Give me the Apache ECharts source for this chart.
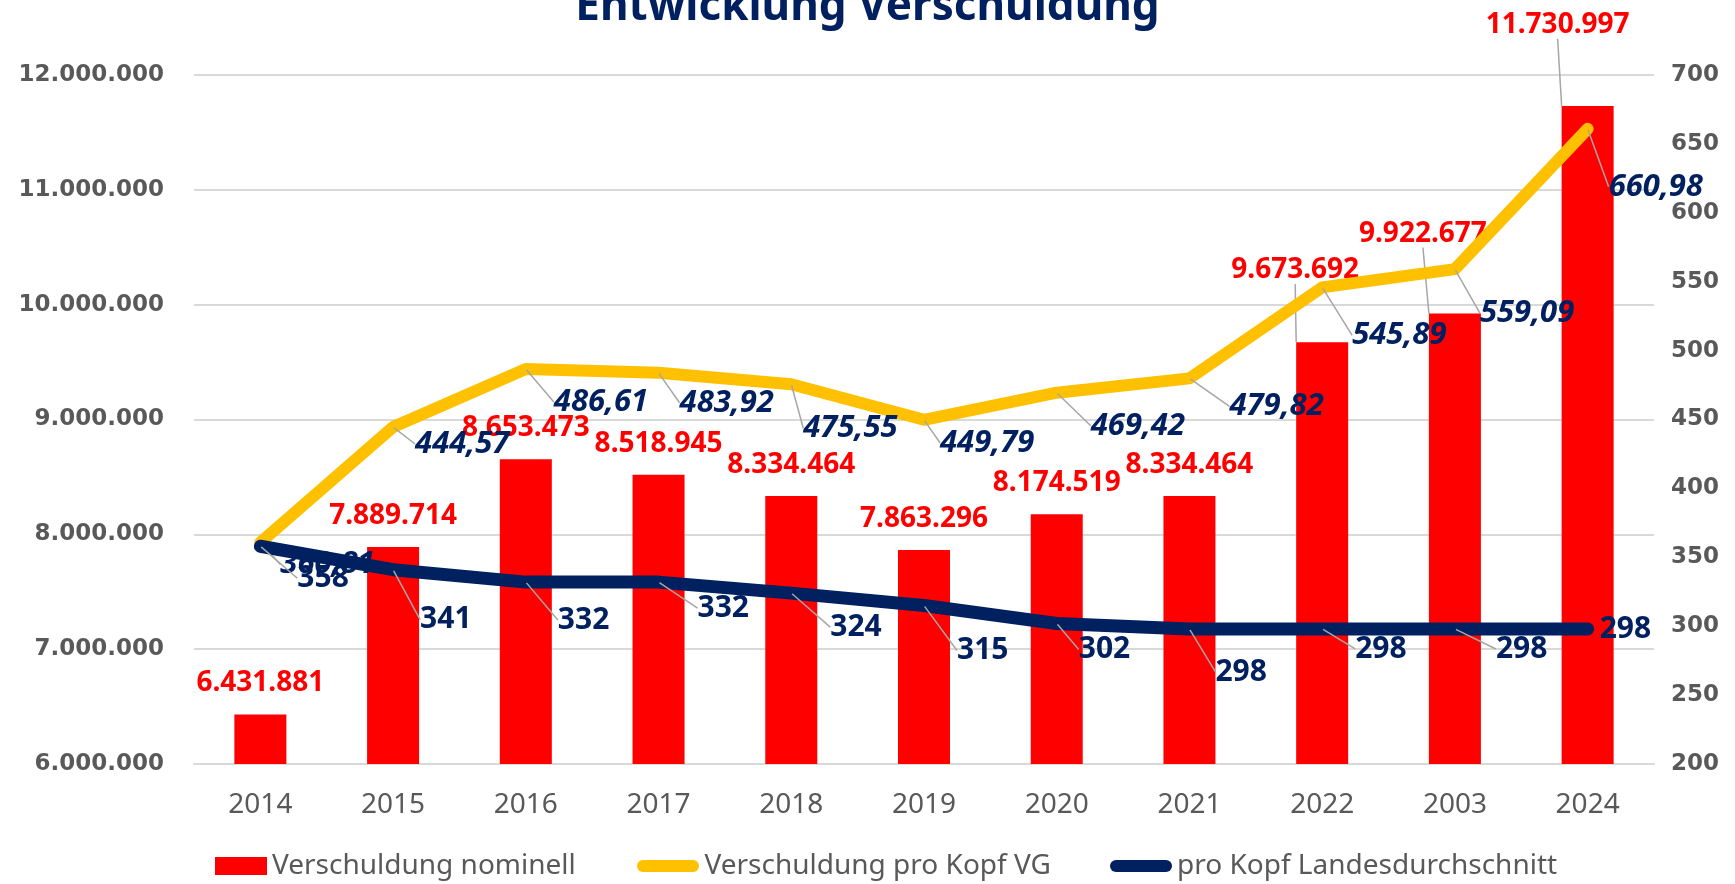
<!DOCTYPE html>
<html>
<head>
<meta charset="utf-8">
<title>Entwicklung Verschuldung</title>
<script src="https://cdn.jsdelivr.net/npm/echarts@6/dist/echarts.min.js"></script>
<style>
  html, body { margin: 0; padding: 0; background: #fff; }
  #chart { width: 1735px; height: 884px; }
</style>
</head>
<body>
<div id="chart"></div>
<script>
  // values
  var years = ['2014', '2015', '2016', '2017', '2018', '2019', '2020', '2021', '2022', '2003', '2024'];
  var debtNominal = [6431881, 7889714, 8653473, 8518945, 8334464, 7863296, 8174519, 8334464, 9673692, 9922677, 11730997];
  var debtPerHead = [360.81, 444.57, 486.61, 483.92, 475.55, 449.79, 469.42, 479.82, 545.89, 559.09, 660.98];
  var stateAverage = [358, 341, 332, 332, 324, 315, 302, 298, 298, 298, 298];

  // label placement tweaks (px), like the hand-moved labels in the original
  var barLabelShift = [[0, 0], [0, 0], [0, 0], [0, 0], [0, 0], [0, 0], [0, 0], [0, 0], [-27, -41], [-32, -49], [-30, -50]];
  var headLabelShift = [[20, 22], [22, 17], [28, 33], [21, 30], [12, 44], [16, 23], [34, 33], [40, 28], [30, 48], [25, 44], [21, 58]];
  var avgLabelShift = [[37, 32], [27, 50], [32, 38], [39, 26], [39, 34], [33, 45], [22, 26], [26, 43], [33, 20], [41, 20], [12, 0]];

  var NAVY = '#002060';
  var GREY = '#595959';
  var FONT = '"Noto Sans", "DejaVu Sans", sans-serif';
  var PILL = 'path://M6,0 H56 A6,6 0 0 1 56,12 H6 A6,6 0 0 1 6,0 Z';

  function dots(v) {
    return String(v).replace(/\B(?=(\d{3})+(?!\d))/g, '.');
  }
  function comma(v) {
    return v.toFixed(2).replace('.', ',');
  }

  var chart = echarts.init(document.getElementById('chart'));

  var barData = debtNominal.map(function (v, i) {
    var moved = barLabelShift[i][0] !== 0 || barLabelShift[i][1] !== 0;
    return { value: v, labelLine: { show: moved } };
  });
  var headData = debtPerHead.map(function (v, i) {
    return { value: v, label: { offset: headLabelShift[i] } };
  });
  var avgData = stateAverage.map(function (v, i) {
    return {
      value: v,
      label: { offset: avgLabelShift[i] },
      labelLine: { show: avgLabelShift[i][1] !== 0 }
    };
  });

  var legendText = { color: GREY, fontSize: 28, fontFamily: FONT };

  var option = {
    backgroundColor: '#fff',
    animation: false,
    title: {
      text: 'Entwicklung Verschuldung',
      left: 'center',
      top: -20,
      textStyle: {
        color: NAVY,
        fontSize: 44,
        fontWeight: 'bold',
        fontFamily: FONT
      }
    },
    legend: [{
      left: 210,
      top: 847,
      itemWidth: 52,
      itemHeight: 18,
      icon: 'rect',
      data: ['Verschuldung nominell'],
      textStyle: legendText
    }, {
      left: 632,
      top: 847,
      itemWidth: 63,
      itemHeight: 12,
      icon: PILL,
      data: ['Verschuldung pro Kopf VG'],
      textStyle: legendText
    }, {
      left: 1105,
      top: 847,
      itemWidth: 62,
      itemHeight: 12,
      icon: PILL,
      data: ['pro Kopf Landesdurchschnitt'],
      textStyle: legendText
    }],
    grid: {
      left: 194,
      right: 81,
      top: 75,
      bottom: 120
    },
    xAxis: {
      type: 'category',
      data: years,
      axisTick: { show: false },
      axisLine: { lineStyle: { color: '#D9D9D9', width: 2 } },
      axisLabel: {
        color: GREY,
        fontSize: 28,
        fontFamily: FONT,
        margin: 27
      }
    },
    yAxis: [{
      type: 'value',
      min: 6000000,
      max: 12000000,
      interval: 1000000,
      axisLine: { show: false },
      axisTick: { show: false },
      splitLine: { lineStyle: { color: '#D9D9D9', width: 2 } },
      axisLabel: {
        color: GREY,
        fontSize: 23,
        fontWeight: 'bold',
        fontFamily: '"DejaVu Sans", sans-serif',
        margin: 30,
        formatter: function (v) { return dots(v); }
      }
    }, {
      type: 'value',
      min: 200,
      max: 700,
      interval: 50,
      axisLine: { show: false },
      axisTick: { show: false },
      splitLine: { show: false },
      axisLabel: {
        color: GREY,
        fontSize: 23,
        fontWeight: 'bold',
        fontFamily: '"DejaVu Sans", sans-serif',
        margin: 17
      }
    }],
    series: [{
      name: 'Verschuldung nominell',
      type: 'bar',
      barWidth: 52,
      z: 2,
      itemStyle: { color: '#FF0000' },
      label: {
        show: true,
        position: 'top',
        distance: 17,
        color: '#FF0000',
        fontSize: 28,
        fontWeight: 'bold',
        fontFamily: FONT,
        formatter: function (p) { return dots(p.value); }
      },
      labelLayout: function (params) {
        var s = barLabelShift[params.dataIndex];
        return { dx: s[0], dy: s[1] };
      },
      labelLine: { lineStyle: { color: '#A6A6A6', width: 1.5 } },
      data: barData
    }, {
      name: 'Verschuldung pro Kopf VG',
      type: 'line',
      yAxisIndex: 1,
      z: 3,
      symbol: 'circle',
      symbolSize: 2,
      itemStyle: { color: '#FFC000' },
      lineStyle: { color: '#FFC000', width: 12, cap: 'round', join: 'round' },
      label: {
        show: true,
        position: 'inside',
        align: 'left',
        verticalAlign: 'middle',
        color: NAVY,
        fontSize: 31,
        fontWeight: 'bold',
        fontStyle: 'italic',
        fontFamily: FONT,
        formatter: function (p) { return comma(p.value); }
      },
      labelLine: { show: true, lineStyle: { color: '#A6A6A6', width: 1.5 } },
      data: headData
    }, {
      name: 'pro Kopf Landesdurchschnitt',
      type: 'line',
      yAxisIndex: 1,
      z: 4,
      symbol: 'circle',
      symbolSize: 2,
      itemStyle: { color: NAVY },
      lineStyle: { color: NAVY, width: 13, cap: 'round', join: 'round' },
      label: {
        show: true,
        position: 'inside',
        align: 'left',
        verticalAlign: 'middle',
        color: NAVY,
        fontSize: 30,
        fontWeight: 'bold',
        fontFamily: FONT,
        formatter: function (p) { return String(p.value); }
      },
      labelLine: { lineStyle: { color: '#A6A6A6', width: 1.5 } },
      data: avgData
    }]
  };

  chart.setOption(option);
  window.addEventListener('resize', function () {
    chart.resize();
  });
</script>
</body>
</html>
